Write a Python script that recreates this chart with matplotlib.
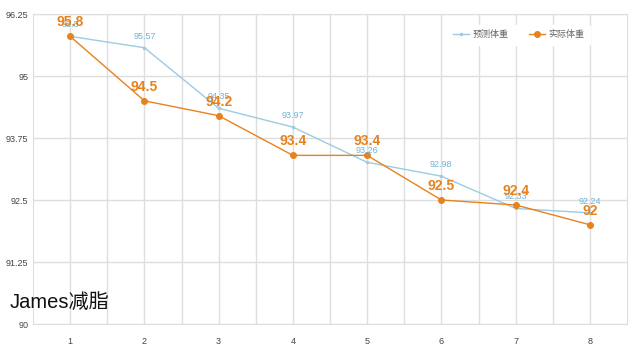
import matplotlib.pyplot as plt

plt.rcParams['font.family'] = ['Liberation Sans', 'Noto Sans CJK SC', 'DejaVu Sans']

days = [1, 2, 3, 4, 5, 6, 7, 8]
predicted = [95.8, 95.57, 94.35, 93.97, 93.26, 92.98, 92.33, 92.24]
actual = [95.8, 94.5, 94.2, 93.4, 93.4, 92.5, 92.4, 92]
yticks = [90, 91.25, 92.5, 93.75, 95, 96.25]
ytick_labels = ["90", "91.25", "92.5", "93.75", "95", "96.25"]

blue = "#9ccbe2"
blue_txt = "#6fb3d6"
orange = "#e8821c"

fig = plt.figure(figsize=(6.4, 3.56), dpi=100)
ax = fig.add_axes([33 / 640, 1 - 324 / 356, (627 - 33) / 640, (324 - 14) / 356])

ax.plot(days, predicted, color=blue, lw=1, marker='o', ms=1.5, label="预测体重", zorder=3)
ax.plot(days, actual, color=orange, lw=1, marker='o', ms=4, label="实际体重", zorder=4)

for x, v in zip(days, predicted):
    ax.annotate(f"{v:g}", (x, v), xytext=(0, 5), textcoords="offset points",
                ha="center", va="bottom", fontsize=6.5, color=blue_txt, zorder=5)
for x, v in zip(days, actual):
    ax.annotate(f"{v:g}", (x, v), xytext=(0, 5), textcoords="offset points",
                ha="center", va="bottom", fontsize=10, color=orange,
                fontweight="bold", zorder=6)

ax.set_xlim(0.5, 8.5)
ax.set_ylim(90, 96.25)
ax.set_xticks(days)
ax.set_xticks([d + 0.5 for d in days[:-1]], minor=True)
ax.set_yticks(yticks)
ax.set_yticklabels(ytick_labels)
ax.grid(True, which="both", color="#dedede", lw=1)
ax.set_axisbelow(True)
ax.tick_params(length=0, labelsize=6.5, colors="#444444", which="both")
ax.tick_params(axis="x", pad=9)
for s in ax.spines.values():
    s.set_color("#dedede")

leg = ax.legend(loc="upper right", bbox_to_anchor=(0.945, 0.98), ncol=2, frameon=True,
                fontsize=6.5, handlelength=1.8, handletextpad=0.4, columnspacing=2.2,
                borderpad=0.6)
leg.get_frame().set_edgecolor("white")
leg.get_frame().set_facecolor("white")
leg.get_frame().set_alpha(1)
for t in leg.get_texts():
    t.set_color("#666666")

fig.text(10 / 640, 1 - 302 / 356, "James减脂", fontsize=14.5, color="#111111", va="center")

fig.savefig("out.png", dpi=100, facecolor="white")
